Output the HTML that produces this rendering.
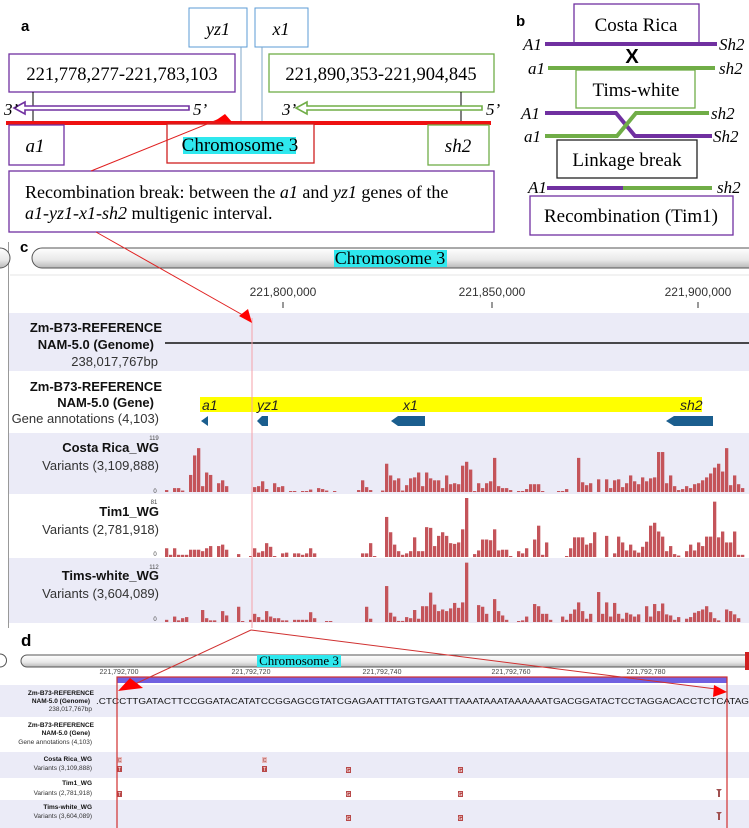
<!DOCTYPE html>
<html><head><meta charset="utf-8">
<style>
html,body{margin:0;padding:0;background:#fff;}
svg{display:block;}
.serif{font-family:"Liberation Serif",serif;}
.sans{font-family:"Liberation Sans",sans-serif;}
</style></head>
<body>
<svg id="fig" width="749" height="828" viewBox="0 0 749 828" xmlns="http://www.w3.org/2000/svg">
<defs>
<linearGradient id="ideo" x1="0" y1="0" x2="0" y2="1">
<stop offset="0" stop-color="#ffffff"/><stop offset="0.6" stop-color="#e8e8e8"/><stop offset="1" stop-color="#b8b8b8"/>
</linearGradient>
</defs>

<!-- ===== Panel a ===== -->
<g class="serif">
<text x="21" y="31" class="sans" font-size="15" font-weight="bold">a</text>
<rect x="189" y="8" width="58" height="39" fill="#fff" stroke="#5b9bd5" stroke-width="1"/>
<text x="218" y="35" font-size="18" font-style="italic" text-anchor="middle">yz1</text>
<rect x="255" y="8" width="53" height="39" fill="#fff" stroke="#5b9bd5" stroke-width="1"/>
<text x="281" y="35" font-size="18" font-style="italic" text-anchor="middle">x1</text>
<line x1="241" y1="47" x2="241" y2="121" stroke="#7fa7c9" stroke-width="1"/>
<line x1="262" y1="47" x2="262" y2="121" stroke="#7fa7c9" stroke-width="1"/>
<rect x="9" y="54" width="226" height="38" fill="#fff" stroke="#7030a0" stroke-width="1.3"/>
<text x="122" y="80" font-size="18.5" text-anchor="middle">221,778,277-221,783,103</text>
<rect x="269" y="54" width="225" height="38" fill="#fff" stroke="#70ad47" stroke-width="1.3"/>
<text x="381" y="80" font-size="18.5" text-anchor="middle">221,890,353-221,904,845</text>
<line x1="33" y1="92" x2="33" y2="124" stroke="#000" stroke-width="1"/>
<line x1="461" y1="92" x2="461" y2="124" stroke="#000" stroke-width="1"/>
<polygon points="14,108 25,102 25,106 189,106 189,110 25,110 25,114" fill="#fff" stroke="#7030a0" stroke-width="1.6"/>
<text x="4" y="115" font-size="17" font-style="italic">3’</text>
<text x="193" y="115" font-size="17" font-style="italic">5’</text>
<polygon points="296,108 307,102 307,106 482,106 482,110 307,110 307,114" fill="#fff" stroke="#70ad47" stroke-width="1.6"/>
<text x="282" y="115" font-size="17" font-style="italic">3’</text>
<text x="486" y="115" font-size="17" font-style="italic">5’</text>
<rect x="6" y="121" width="485" height="4" fill="#ee1111"/>
<rect x="9" y="125" width="55" height="40" fill="#fff" stroke="#7030a0" stroke-width="1.3"/>
<text x="35" y="152" font-size="19" font-style="italic" text-anchor="middle">a1</text>
<rect x="167" y="124" width="147" height="39" fill="#fff" stroke="#d02020" stroke-width="1.3"/>
<rect x="183" y="137" width="113" height="17" fill="#2ee8ee"/>
<text x="240" y="151" font-size="19" text-anchor="middle">Chromosome 3</text>
<rect x="428" y="125" width="61" height="40" fill="#fff" stroke="#70ad47" stroke-width="1.3"/>
<text x="458" y="152" font-size="19" font-style="italic" text-anchor="middle">sh2</text>
<rect x="9" y="171" width="485" height="61" fill="#fff" stroke="#7030a0" stroke-width="1.3"/>
<text x="25" y="198" font-size="18">Recombination break: between the <tspan font-style="italic">a1</tspan> and <tspan font-style="italic">yz1</tspan> genes of the</text>
<text x="25" y="219" font-size="18"><tspan font-style="italic">a1-yz1-x1-sh2</tspan> multigenic interval.</text>
<line x1="91" y1="171" x2="222" y2="118" stroke="#e02020" stroke-width="1"/>
<polygon points="225,114 215,121 232,122" fill="#ff0000"/>
</g>

<!-- ===== Panel b ===== -->
<g class="serif">
<text x="516" y="26" class="sans" font-size="15" font-weight="bold">b</text>
<rect x="574" y="4" width="125" height="39" fill="#fff" stroke="#7030a0" stroke-width="1.3"/>
<text x="636" y="31" font-size="19" text-anchor="middle">Costa Rica</text>
<text x="523" y="50" font-size="17" font-style="italic">A1</text>
<line x1="545" y1="44" x2="717" y2="44" stroke="#7030a0" stroke-width="4"/>
<text x="719" y="50" font-size="17" font-style="italic">Sh2</text>
<text x="632" y="63" font-size="20" font-weight="bold" text-anchor="middle" class="sans">X</text>
<text x="528" y="74" font-size="17" font-style="italic">a1</text>
<line x1="548" y1="68" x2="715" y2="68" stroke="#70ad47" stroke-width="4"/>
<text x="719" y="74" font-size="17" font-style="italic">sh2</text>
<rect x="576" y="70" width="119" height="38" fill="#fff" stroke="#70ad47" stroke-width="1.3"/>
<text x="636" y="96" font-size="19" text-anchor="middle">Tims-white</text>
<text x="521" y="119" font-size="17" font-style="italic">A1</text>
<polyline points="545,113 616,113 635,136 712,136" fill="none" stroke="#7030a0" stroke-width="4"/>
<polyline points="545,136 617,136 636,113 709,113" fill="none" stroke="#70ad47" stroke-width="4"/>
<text x="711" y="119" font-size="17" font-style="italic">sh2</text>
<text x="524" y="142" font-size="17" font-style="italic">a1</text>
<text x="713" y="142" font-size="17" font-style="italic">Sh2</text>
<rect x="557" y="140" width="140" height="38" fill="#fff" stroke="#222" stroke-width="1.3"/>
<text x="627" y="166" font-size="19" text-anchor="middle">Linkage break</text>
<text x="528" y="193" font-size="17" font-style="italic">A1</text>
<line x1="547" y1="188" x2="623" y2="188" stroke="#7030a0" stroke-width="4"/>
<line x1="623" y1="188" x2="712" y2="188" stroke="#70ad47" stroke-width="4"/>
<text x="717" y="193" font-size="17" font-style="italic">sh2</text>
<rect x="530" y="196" width="203" height="39" fill="#fff" stroke="#7030a0" stroke-width="1.3"/>
<text x="631" y="222" font-size="19" text-anchor="middle">Recombination (Tim1)</text>
</g>

<!-- ===== Panel c ===== -->
<g>
<text x="20" y="252" class="sans" font-size="15" font-weight="bold">c</text>
<line x1="8.5" y1="242" x2="8.5" y2="628" stroke="#999" stroke-width="1"/>
<path d="M0,248 A10,10 0 0 1 0,268" fill="url(#ideo)" stroke="#555" stroke-width="1"/>
<rect x="32" y="248" width="730" height="20" rx="10" fill="url(#ideo)" stroke="#555" stroke-width="1"/>
<rect x="334" y="250" width="113" height="17" fill="#2ee8ee"/>
<text x="390" y="264" class="serif" font-size="18" text-anchor="middle">Chromosome 3</text>
<line x1="10" y1="275" x2="749" y2="275" stroke="#e4e4e4" stroke-width="1"/>
<g class="sans" font-size="12" fill="#333" text-anchor="middle">
<text x="283" y="296">221,800,000</text>
<text x="492" y="296">221,850,000</text>
<text x="698" y="296">221,900,000</text>
</g>
<line x1="283" y1="302" x2="283" y2="308" stroke="#333"/>
<line x1="492" y1="302" x2="492" y2="308" stroke="#333"/>
<line x1="698" y1="302" x2="698" y2="308" stroke="#333"/>

<rect x="9" y="313" width="740" height="58" fill="#ebebf7"/>
<g class="sans" font-size="13" text-anchor="end" fill="#111">
<text x="162" y="332" font-weight="bold">Zm-B73-REFERENCE</text>
<text x="154" y="349" font-weight="bold">NAM-5.0 (Genome)</text>
<text x="158" y="366" fill="#333">238,017,767bp</text>
<text x="162" y="391" font-weight="bold">Zm-B73-REFERENCE</text>
<text x="154" y="407" font-weight="bold">NAM-5.0 (Gene)</text>
<text x="159" y="423" fill="#333">Gene annotations (4,103)</text>
</g>
<line x1="165" y1="343" x2="749" y2="343" stroke="#111" stroke-width="1.5"/>
<rect x="200" y="397" width="502" height="15" fill="#ffff00"/>
<g class="sans" font-size="14" font-style="italic" fill="#222">
<text x="202" y="410">a1</text>
<text x="257" y="410">yz1</text>
<text x="403" y="410">x1</text>
<text x="680" y="410">sh2</text>
</g>
<g fill="#1b5e8e">
<polygon points="201,421 208,416 208,426"/>
<polygon points="257,421 262,416 268,416 268,426 262,426"/>
<polygon points="391,421 398,416 425,416 425,426 398,426"/>
<polygon points="666,421 674,416 713,416 713,426 674,426"/>
</g>

<rect x="9" y="433" width="740" height="61" fill="#ebebf7"/>
<rect x="9" y="558" width="740" height="65" fill="#ebebf7"/>
<g class="sans" font-size="13" text-anchor="end" fill="#111">
<text x="159" y="452" font-weight="bold">Costa Rica_WG</text>
<text x="159" y="470" fill="#333">Variants (3,109,888)</text>
<text x="159" y="516" font-weight="bold">Tim1_WG</text>
<text x="159" y="534" fill="#333">Variants (2,781,918)</text>
<text x="159" y="580" font-weight="bold">Tims-white_WG</text>
<text x="159" y="598" fill="#333">Variants (3,604,089)</text>
</g>
<g class="sans" font-size="6" fill="#444" text-anchor="middle">
<text x="154" y="440">119</text>
<text x="155" y="493">0</text>
<text x="154" y="504">81</text>
<text x="155" y="556">0</text>
<text x="154" y="569">112</text>
<text x="155" y="621">0</text>
</g>
<g id="bars"></g>

<line x1="252" y1="318" x2="252" y2="628" stroke="#f4a0a8" stroke-width="1"/>
<line x1="96" y1="232" x2="248" y2="318" stroke="#e02020" stroke-width="1"/>
<polygon points="252,323 239,316 248,309" fill="#ff0000"/>
</g>

<!-- ===== Panel d ===== -->
<g>
<text x="21" y="646" class="sans" font-size="17" font-weight="bold">d</text>
<path d="M0,654 A6,6 0 0 1 0,667" fill="none" stroke="#555"/>
<rect x="21" y="655" width="738" height="12" rx="6" fill="url(#ideo)" stroke="#555" stroke-width="1"/>
<rect x="745" y="652" width="4" height="18" fill="#d02020"/>
<rect x="257" y="655" width="84" height="12" fill="#2ee8ee"/>
<text x="299" y="665" class="serif" font-size="13" text-anchor="middle">Chromosome 3</text>
<g class="sans" font-size="7" fill="#444" text-anchor="middle">
<text x="119" y="674">221,792,700</text>
<text x="251" y="674">221,792,720</text>
<text x="382" y="674">221,792,740</text>
<text x="511" y="674">221,792,760</text>
<text x="646" y="674">221,792,780</text>
</g>
<rect x="117" y="677" width="610" height="6" fill="#7060e0"/>
<rect x="0" y="685" width="749" height="32" fill="#ebebf7"/>
<rect x="0" y="752" width="749" height="26" fill="#ebebf7"/>
<rect x="0" y="800" width="749" height="28" fill="#ebebf7"/>
<g class="sans" font-size="6.5" text-anchor="end" fill="#111">
<text x="94" y="695" font-weight="bold">Zm-B73-REFERENCE</text>
<text x="90" y="703" font-weight="bold">NAM-5.0 (Genome)</text>
<text x="92" y="711" fill="#333">238,017,767bp</text>
<text x="94" y="727" font-weight="bold">Zm-B73-REFERENCE</text>
<text x="90" y="735" font-weight="bold">NAM-5.0 (Gene)</text>
<text x="92" y="744" fill="#333">Gene annotations (4,103)</text>
<text x="92" y="761" font-weight="bold">Costa Rica_WG</text>
<text x="92" y="770" fill="#333">Variants (3,109,888)</text>
<text x="92" y="785" font-weight="bold">Tim1_WG</text>
<text x="92" y="795" fill="#333">Variants (2,781,918)</text>
<text x="92" y="809" font-weight="bold">Tims-white_WG</text>
<text x="92" y="818" fill="#333">Variants (3,604,089)</text>
</g>
<text x="96" y="704" class="sans" font-size="8.5" textLength="653" lengthAdjust="spacingAndGlyphs" fill="#111">.CTCCTTGATACTTCCGGATACATATCCGGAGCGTATCGAGAATTTATGTGAATTTAAATAAATAAAAAATGACGGATACTCCTAGGACACCTCTCATAG</text>
<g class="sans" font-size="5" text-anchor="middle">
<rect x="117" y="757" width="5" height="6" fill="#e8b8b8"/><text x="119.5" y="762" fill="#a04040">C</text>
<rect x="117" y="766" width="5" height="6" fill="#b84848"/><text x="119.5" y="771" fill="#fff">T</text>
<rect x="262" y="757" width="5" height="6" fill="#e8b8b8"/><text x="264.5" y="762" fill="#a04040">C</text>
<rect x="262" y="766" width="5" height="6" fill="#b84848"/><text x="264.5" y="771" fill="#fff">T</text>
<rect x="346" y="767" width="5" height="6" fill="#b84848"/><text x="348.5" y="772" fill="#fff">G</text>
<rect x="458" y="767" width="5" height="6" fill="#b84848"/><text x="460.5" y="772" fill="#fff">G</text>
<rect x="117" y="791" width="5" height="6" fill="#b84848"/><text x="119.5" y="796" fill="#fff">T</text>
<rect x="346" y="791" width="5" height="6" fill="#b84848"/><text x="348.5" y="796" fill="#fff">G</text>
<rect x="458" y="791" width="5" height="6" fill="#b84848"/><text x="460.5" y="796" fill="#fff">G</text>
<rect x="346" y="815" width="5" height="6" fill="#b84848"/><text x="348.5" y="820" fill="#fff">G</text>
<rect x="458" y="815" width="5" height="6" fill="#b84848"/><text x="460.5" y="820" fill="#fff">G</text>
</g>
<path d="M716,789 h6 l-2,2 v6 h-2 v-6 z" fill="#a05050"/>
<path d="M716,812 h6 l-2,2 v6 h-2 v-6 z" fill="#a05050"/>
<rect x="117" y="677" width="610" height="160" fill="none" stroke="#d03030" stroke-width="1.2"/>
<line x1="251" y1="630" x2="135" y2="684" stroke="#d03030" stroke-width="1"/>
<polygon points="118,691 130,678 143,688" fill="#ff0000"/>
<line x1="251" y1="630" x2="716" y2="689" stroke="#d03030" stroke-width="1"/>
<polygon points="727,692 714,685 713,697" fill="#ff0000"/>
</g>
</svg>

<script>
// Variant counts per bin (bins of equal genomic width across the interval)
const costaRicaCounts = [4,0,8,8,3,0,35,75,90,12,40,35,0,18,24,12,0,0,0,0,0,0,10,12,22,6,0,18,10,12,0,2,2,0,2,2,5,0,8,6,3,0,2,0,0,0,0,0,4,24,10,4,0,0,3,58,34,24,28,3,14,28,30,40,12,40,28,24,24,8,34,16,18,16,54,62,46,2,18,8,18,22,70,12,8,8,4,0,2,2,6,16,16,16,2,0,0,0,2,2,6,0,0,70,20,14,18,0,26,0,26,8,24,26,10,18,34,22,16,30,22,28,30,82,82,18,34,12,4,6,12,8,16,18,24,30,38,50,58,42,90,14,34,16,8];
const tim1Counts = [12,3,12,3,3,3,10,10,10,8,12,15,0,15,17,10,0,0,4,0,0,1,12,6,8,19,14,1,0,5,6,0,5,5,3,5,12,5,0,0,0,0,0,0,0,0,0,0,0,5,5,19,1,0,0,55,34,17,8,3,5,8,27,8,8,41,40,15,29,34,29,19,18,20,38,81,0,4,9,24,24,23,38,9,10,10,1,0,8,5,12,0,24,43,3,20,0,0,0,0,1,12,27,27,27,17,19,34,0,0,29,0,5,28,20,9,17,9,6,14,21,43,47,35,28,8,15,4,2,0,8,17,9,20,15,28,28,76,27,35,20,20,35,3,3];
const timsWhiteCounts = [4,0,10,3,7,9,0,0,0,22,7,3,3,0,20,12,0,0,28,1,0,4,15,9,4,20,10,7,7,3,3,0,4,4,4,4,18,7,0,0,1,1,0,0,0,0,0,0,0,0,28,6,0,0,0,66,17,10,2,2,9,7,22,6,29,29,54,32,20,23,20,25,35,26,36,109,0,0,31,28,15,0,42,20,12,4,0,0,1,3,10,0,33,29,15,15,4,0,0,10,4,15,23,36,20,6,15,0,55,15,36,10,35,15,6,17,14,10,14,0,29,10,33,20,34,14,12,4,9,0,6,9,17,20,23,29,18,7,3,0,23,20,14,7,0];
const trackMax = [119, 81, 112];

const NS = 'http://www.w3.org/2000/svg';
const binStart = 165, binWidth = 4;
const tracks = [
  {name:'costa-rica', data:costaRicaCounts, base:492, h:58},
  {name:'tim1', data:tim1Counts, base:557, h:59},
  {name:'tims-white', data:timsWhiteCounts, base:622, h:61}
];
function xPos(i){ return binStart + i*binWidth; }
const g = document.getElementById('bars');
tracks.forEach(function(t, ti){
  const yScale = function(v){ return v / trackMax[ti] * t.h; };
  t.data.forEach(function(v, i){
    if (v <= 0) return;
    let hh = Math.max(yScale(v), 1);
    const r = document.createElementNS(NS, 'rect');
    r.setAttribute('x', xPos(i));
    r.setAttribute('y', t.base - hh);
    r.setAttribute('width', binWidth - 0.7);
    r.setAttribute('height', hh);
    r.setAttribute('fill', '#c4545a');
    
    
    g.appendChild(r);
  });
});
</script>
</body></html>
